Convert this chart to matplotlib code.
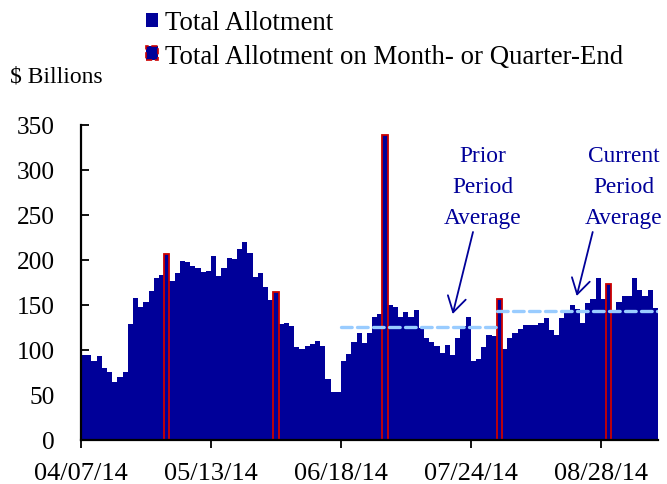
import matplotlib.pyplot as plt
from matplotlib.patches import Patch
import numpy as np

plt.rcParams['font.family'] = ['Liberation Serif', 'DejaVu Serif']

# Daily ON RRP allotment, $ billions (operating days 04/07/14 - 09/12/14)
allotment = [94, 94, 88, 93, 80, 75, 64, 70, 75, 129,
             158, 148, 153, 165, 180, 183, 207, 176, 185, 199,
             198, 193, 191, 186, 188, 204, 182, 191, 202, 201,
             212, 220, 208, 181, 185, 170, 155, 164, 129, 130,
             126, 103, 101, 104, 106, 110, 104, 67, 53, 53,
             87, 95, 109, 119, 107, 119, 136, 140, 339, 150,
             148, 136, 142, 136, 144, 124, 113, 109, 104, 96,
             105, 94, 113, 127, 136, 88, 90, 103, 116, 115,
             156, 101, 113, 119, 123, 128, 128, 128, 130, 135,
             122, 116, 135, 142, 150, 145, 130, 152, 156, 180,
             157, 173, 142, 153, 160, 160, 180, 167, 160, 167,
             147]
# month- or quarter-end days: 04/30, 05/30, 06/30, 07/31, 08/29
month_end_idx = [16, 37, 58, 80, 101]

tick_idx = [0, 25, 50, 75, 100]
tick_labels = ['04/07/14', '05/13/14', '06/18/14', '07/24/14', '08/28/14']

# period averages: (first bar, last bar, level)
prior_avg = (50, 79, 125)
current_avg = (80, 110, 143)

blue = '#000099'
red = '#cc0000'
light_blue = '#99ccff'

fig = plt.figure(figsize=(6.67, 4.85), dpi=100)
ax = fig.add_axes([81 / 667, 1 - 440.7 / 485, 577 / 667, 314.7 / 485])

x = np.arange(len(allotment))
vals = np.array(allotment)
ax.bar(x, vals, width=1.0, color=blue, linewidth=0, zorder=2)
me = np.array(month_end_idx)
ax.bar(me, vals[me], width=1.0, color=blue, edgecolor=red, linewidth=1.3, zorder=3)

for start, end, level in (prior_avg, current_avg):
    ax.plot([start - 0.5, end + 0.5], [level, level], color=light_blue, lw=2.4,
            linestyle=(0, (3.2, 1.6)), dash_capstyle='round', zorder=4)

ax.set_xlim(-0.5, len(allotment) - 0.5)
ax.set_ylim(0, 350)
ax.set_yticks(range(0, 351, 50))
ax.set_xticks(np.array(tick_idx) - 0.5)
ax.set_xticklabels(tick_labels)

for s in ['top', 'right']:
    ax.spines[s].set_visible(False)
for s in ['left', 'bottom']:
    ax.spines[s].set_linewidth(1.6)
    ax.spines[s].set_zorder(5)
ax.tick_params(axis='y', direction='in', length=5.5, width=1.3, labelsize=18.3, pad=18.7)
ax.tick_params(axis='x', direction='out', length=5.5, width=1.3, labelsize=19, pad=10.8)

fig.text(10 / 667, 1 - 77 / 485, '$ Billions', fontsize=17, va='center', ha='left')

handles = [Patch(facecolor=blue, edgecolor=blue, linewidth=0),
           Patch(facecolor=blue, edgecolor=red, linewidth=1.2, linestyle='--')]
fig.legend(handles, ['Total Allotment', 'Total Allotment on Month- or Quarter-End'],
           loc='upper left', bbox_to_anchor=(146 / 667, 1 - 11.5 / 485), frameon=False,
           fontsize=19.3, handlelength=0.45, handleheight=0.45, handletextpad=0.26,
           labelspacing=0.31, borderpad=0, borderaxespad=0)

# annotations: text centres and arrows (tail -> head) in figure pixels
notes = [('Prior\nPeriod\nAverage', (483, 187.5), (473, 233), (452.7, 315)),
         ('Current\nPeriod\nAverage', (623.5, 187.5), (592.7, 233), (576.7, 297))]
for label, (tx, ty), (ax0, ay0), (ax1, ay1) in notes:
    fig.text(tx / 667, 1 - ty / 485, label, ha='center', va='center', color=blue,
             fontsize=16.8, linespacing=1.63)
    ax.annotate('', xy=(ax1, 485 - ay1), xycoords='figure pixels',
                xytext=(ax0, 485 - ay0), textcoords='figure pixels',
                arrowprops=dict(arrowstyle='->, head_length=0.5, head_width=0.3',
                                color=blue, lw=1.3, shrinkA=0, shrinkB=0,
                                mutation_scale=22))

fig.savefig('out.png', dpi=100)
